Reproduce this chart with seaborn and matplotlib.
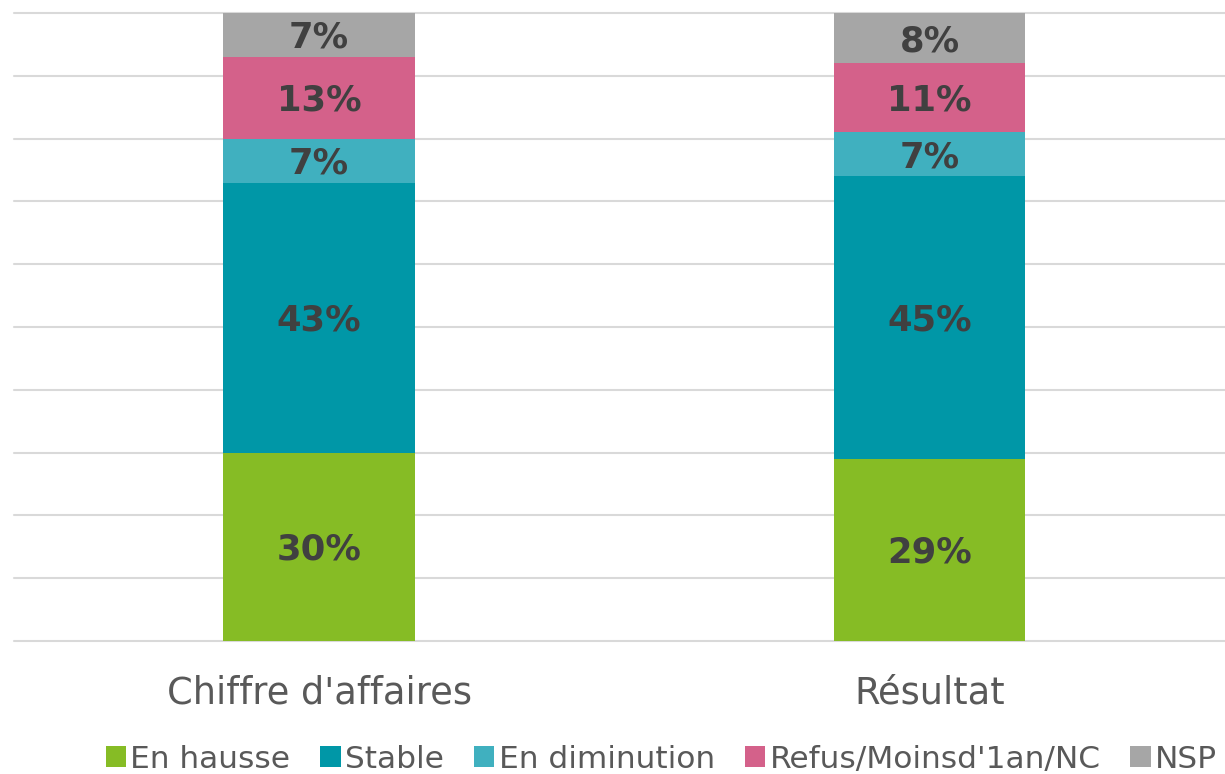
import numpy as np
import pandas as pd
import matplotlib
matplotlib.use('Agg')
import matplotlib.pyplot as plt
from matplotlib.patches import Patch
import seaborn as sns

# Data
categories = ["Chiffre d'affaires", "Résultat"]
series = ["En hausse", "Stable", "En diminution", "Refus/Moinsd'1an/NC", "NSP"]
en_hausse = [30, 29]
stable = [43, 45]
en_diminution = [7, 7]
refus = [13, 11]
nsp = [7, 8]
colors = ["#86bc25", "#0097a7", "#40b0bf", "#d4618a", "#a6a6a6"]

values = np.array([en_hausse, stable, en_diminution, refus, nsp], dtype=float)
cum = values.cumsum(axis=0)

sns.set_style("white")
plt.rcParams['font.family'] = ['DejaVu Sans']

fig = plt.figure(figsize=(12.25, 7.74), dpi=100)
ax = fig.add_axes([0.0114, 0.172, 0.9886, 0.811])

# stacked bars: draw cumulative totals from the top layer down
for i in range(len(series) - 1, -1, -1):
    df = pd.DataFrame({"cat": categories, "val": cum[i]})
    sns.barplot(data=df, x="cat", y="val", color=colors[i], width=0.314,
                saturation=1, ax=ax, zorder=2, linewidth=0)

# value labels (slightly below the segment centre, like the original)
for i in range(len(series)):
    for j in range(len(categories)):
        mid = cum[i, j] - values[i, j] / 2 - 0.45
        ax.text(j, mid, f"{int(values[i, j])}%", ha='center', va='center',
                fontsize=25.5, fontweight='bold', color='#404040', zorder=3)

ax.set_ylim(0, 100)
ax.set_xlim(-0.5, 1.484)
ax.set_yticks(np.arange(0, 101, 10))
ax.yaxis.grid(True, color='#d9d9d9', linewidth=1.5, zorder=0)
ax.set_axisbelow(True)
for gl in ax.get_ygridlines():
    gl.set_clip_on(False)
ax.tick_params(axis='y', left=False, labelleft=False)
ax.tick_params(axis='x', bottom=False, labelsize=26.5, labelcolor='#595959', pad=21)
ax.set_xlabel("")
ax.set_ylabel("")
for s in ax.spines.values():
    s.set_visible(False)

handles = [Patch(facecolor=c, edgecolor='none') for c in colors]
fig.legend(handles, series, loc='center', bbox_to_anchor=(0.54, 0.019), ncol=5,
           frameon=False, fontsize=22.5, handlelength=0.65, handleheight=0.65,
           handletextpad=0.15, columnspacing=0.95, labelcolor='#595959')

plt.savefig('out.png', dpi=100)
